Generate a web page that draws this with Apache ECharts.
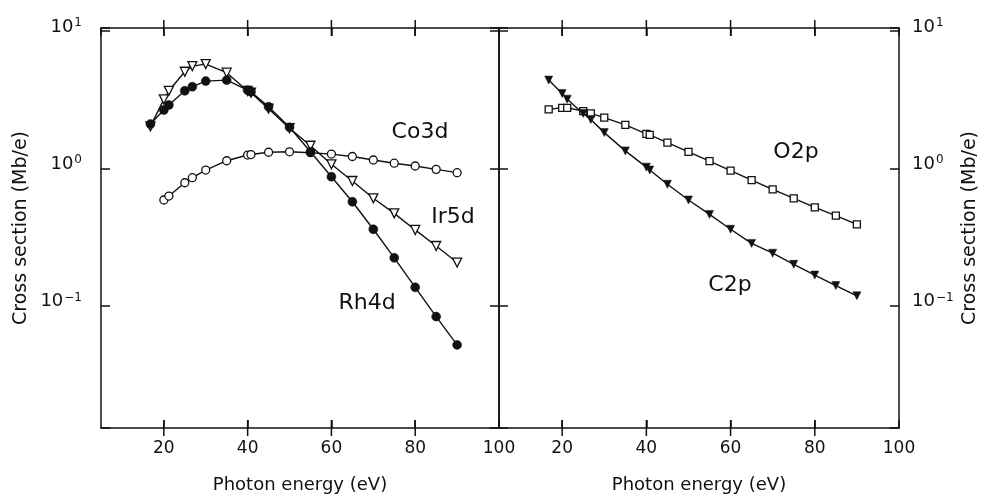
<!DOCTYPE html>
<html>
<head>
<meta charset="utf-8">
<script src="https://cdn.jsdelivr.net/npm/echarts@6/dist/echarts.min.js"></script>
<style>
  html, body { margin: 0; padding: 0; background: #fff; }
  #chart { width: 981px; height: 495px; }
</style>
</head>
<body>
<div id="chart"></div>
<script>
// Photoionization cross sections (Mb/e) versus photon energy (eV)

// Left panel: transition-metal d levels
const rh4dEnergy = [16.8, 20, 21.2, 25, 26.8, 30, 35, 40, 40.8, 45, 50, 55, 60, 65, 70, 75, 80, 85, 90];
const rh4dValues = [2.10, 2.66, 2.89, 3.67, 3.93, 4.32, 4.39, 3.71, 3.61, 2.81, 1.99, 1.32, 0.869, 0.571, 0.360, 0.223, 0.136, 0.0832, 0.0518];

const ir5dEnergy = [16.8, 20, 21.2, 25, 26.8, 30, 35, 40, 40.8, 45, 50, 55, 60, 65, 70, 75, 80, 85, 90];
const ir5dValues = [2.02, 3.18, 3.67, 5.05, 5.55, 5.74, 4.97, 3.66, 3.56, 2.72, 1.96, 1.46, 1.07, 0.809, 0.605, 0.470, 0.356, 0.272, 0.206];

const co3dEnergy = [20, 21.2, 25, 26.8, 30, 35, 40, 40.8, 45, 50, 55, 60, 65, 70, 75, 80, 85, 90];
const co3dValues = [0.588, 0.628, 0.785, 0.855, 0.972, 1.136, 1.25, 1.26, 1.31, 1.32, 1.30, 1.27, 1.22, 1.15, 1.09, 1.04, 0.983, 0.93];

// Right panel: p levels of O and C
const o2pEnergy = [16.8, 20, 21.2, 25, 26.8, 30, 35, 40, 40.8, 45, 50, 55, 60, 65, 70, 75, 80, 85, 90];
const o2pValues = [2.69, 2.76, 2.76, 2.61, 2.51, 2.34, 2.07, 1.78, 1.75, 1.54, 1.32, 1.13, 0.961, 0.822, 0.703, 0.605, 0.520, 0.452, 0.391];

const c2pEnergy = [16.8, 20, 21.2, 25, 26.8, 30, 35, 40, 40.8, 45, 50, 55, 60, 65, 70, 75, 80, 85, 90];
const c2pValues = [4.39, 3.51, 3.19, 2.51, 2.27, 1.82, 1.34, 1.02, 0.972, 0.765, 0.588, 0.462, 0.360, 0.284, 0.241, 0.200, 0.167, 0.140, 0.118];

// Axis ranges, labelled energies and interior energy ticks
const energyTicks = [20, 40, 60, 80, 100];
const energyInnerTicks = [20, 40, 60, 80];
const energyRange = [5, 100];
const sectionRange = [Math.pow(10, -1.891), Math.pow(10, 1.022)];

const FONT = '"DejaVu Sans", Verdana, sans-serif';
const INK = '#111';
const TICK_LEN = 8;

function pairs(xs, ys) { return xs.map((x, i) => [x, ys[i]]); }

function energyLabel(v) {
  return energyTicks.indexOf(Math.round(v * 1000) / 1000) >= 0 ? String(v) : '';
}

function decadeLabel(v) {
  const lg = Math.log10(v);
  const e = Math.round(lg);
  if (Math.abs(lg - e) > 1e-6) return '';
  const exp = e < 0 ? '\u2212' + (-e) : String(e);
  return '{b|10}{s|' + exp + '}';
}

function axisLine() {
  return { show: true, onZero: false, lineStyle: { color: INK, width: 1.5 } };
}

function xAxisDef(gridIndex, position, withLabels) {
  return {
    type: 'value', gridIndex, position,
    min: energyRange[0], max: energyRange[1],
    splitNumber: 5,
    axisLine: axisLine(),
    axisTick: { show: true, inside: true, length: TICK_LEN, lineStyle: { color: INK, width: 1.5 } },
    axisLabel: withLabels ? { show: true, showMinLabel: false, formatter: energyLabel, margin: 12,
                              fontFamily: FONT, fontSize: 17, color: INK } : { show: false },
    splitLine: { show: false },
    name: withLabels ? 'Photon energy (eV)' : '',
    nameLocation: 'middle', nameGap: 48,
    nameTextStyle: { fontFamily: FONT, fontSize: 18, color: INK }
  };
}

function yAxisDef(gridIndex, position, withLabels) {
  return {
    type: 'log', logBase: 10, gridIndex, position,
    min: sectionRange[0], max: sectionRange[1],
    axisLine: axisLine(),
    axisTick: { show: true, inside: true, length: 9, lineStyle: { color: INK, width: 1.5 } },
    minorTick: { show: false },
    axisLabel: withLabels ? {
      show: true, margin: position === 'left' ? 19 : 13,
      formatter: decadeLabel,
      padding: [0, 0, 8, 0],
      rich: {
        b: { fontFamily: FONT, fontSize: 18, color: INK, lineHeight: 20 },
        s: { fontFamily: FONT, fontSize: 12, color: INK, lineHeight: 12, verticalAlign: 'top', padding: [0, 0, 0, 1] }
      }
    } : { show: false },
    splitLine: { show: false },
    name: withLabels ? 'Cross section (Mb/e)' : '',
    nameLocation: 'middle', nameRotate: 90,
    nameGap: position === 'left' ? 70 : 62,
    nameTextStyle: { fontFamily: FONT, fontSize: 19, color: INK }
  };
}

function lineSeries(name, xs, ys, xi, yi, symbol, filled, size) {
  return {
    name, type: 'line', xAxisIndex: xi, yAxisIndex: yi,
    data: pairs(xs, ys),
    symbol: symbol === 'down' ? 'triangle' : symbol,
    symbolRotate: symbol === 'down' ? 180 : 0,
    symbolSize: size,
    showAllSymbol: true,
    lineStyle: { color: INK, width: 1.4 },
    itemStyle: filled ? { color: INK, borderColor: INK, borderWidth: 0.5 }
                      : { color: '#fff', borderColor: INK, borderWidth: 1.3 },
    emphasis: { disabled: true },
    animation: false
  };
}

// Inward energy ticks on the bottom and top frame: thin bars centred on the frame,
// the outer half clipped away by the panel
function frameTicks(xi, yi) {
  const data = [];
  energyInnerTicks.forEach(e => { data.push([e, sectionRange[0]]); data.push([e, sectionRange[1]]); });
  return {
    type: 'scatter', xAxisIndex: xi, yAxisIndex: yi,
    data, clip: true, silent: true, z: 6,
    symbol: 'rect', symbolSize: [1.5, TICK_LEN * 2],
    itemStyle: { color: INK, opacity: 1 },
    emphasis: { disabled: true },
    animation: false
  };
}

function curveLabel(text, x, y) {
  return { type: 'text', x, y, style: { text, fontFamily: FONT, fontSize: 22, fill: INK,
           align: 'center', verticalAlign: 'middle' } };
}

const chart = echarts.init(document.getElementById('chart'), null, { renderer: 'canvas' });
chart.setOption({
  backgroundColor: '#fff',
  animation: false,
  grid: [
    { left: 101, top: 28, width: 398, height: 400, outerBoundsMode: 'none' },
    { left: 499, top: 28, width: 400, height: 400, outerBoundsMode: 'none' }
  ],
  xAxis: [
    xAxisDef(0, 'bottom', true),
    xAxisDef(0, 'top', false),
    xAxisDef(1, 'bottom', true),
    xAxisDef(1, 'top', false)
  ],
  yAxis: [
    yAxisDef(0, 'left', true),
    yAxisDef(0, 'right', false),
    yAxisDef(1, 'left', false),
    yAxisDef(1, 'right', true)
  ],
  series: [
    frameTicks(0, 0),
    frameTicks(2, 3),
    lineSeries('Co3d', co3dEnergy, co3dValues, 0, 0, 'circle', false, 8),
    lineSeries('Ir5d', ir5dEnergy, ir5dValues, 0, 0, 'down', false, 9),
    lineSeries('Rh4d', rh4dEnergy, rh4dValues, 0, 0, 'circle', true, 9),
    lineSeries('O2p', o2pEnergy, o2pValues, 2, 3, 'rect', false, 7),
    lineSeries('C2p', c2pEnergy, c2pValues, 2, 3, 'down', true, 8)
  ],
  graphic: [
    curveLabel('Co3d', 420, 132),
    curveLabel('Ir5d', 453, 217),
    curveLabel('Rh4d', 367, 303),
    curveLabel('O2p', 796, 152),
    curveLabel('C2p', 730, 285)
  ]
});
</script>
</body>
</html>
